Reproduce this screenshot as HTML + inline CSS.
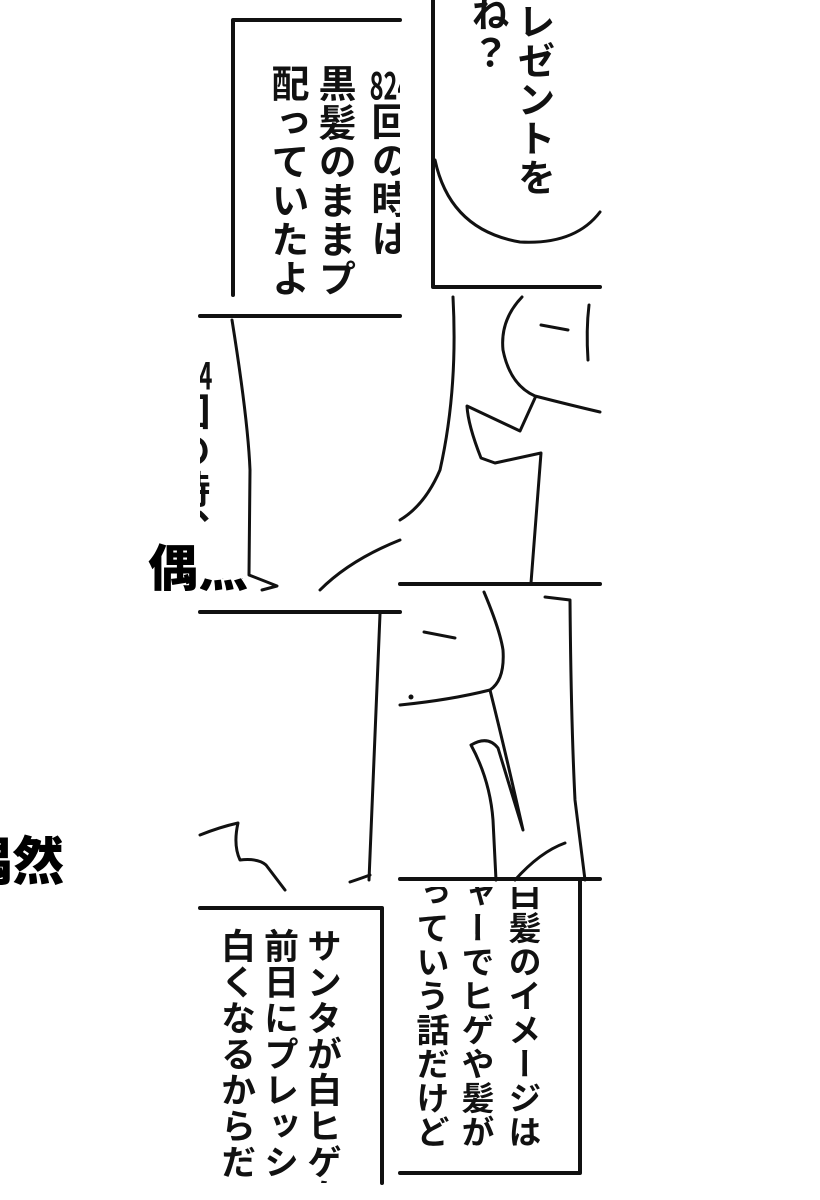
<!DOCTYPE html>
<html><head><meta charset="utf-8">
<style>
html,body{margin:0;padding:0;background:#fff;}
body{width:820px;height:1200px;position:relative;overflow:hidden;font-family:"Liberation Sans","Noto Sans CJK JP",sans-serif;}
.clip{position:absolute;overflow:hidden;}
.col{position:absolute;writing-mode:vertical-rl;font-size:38px;font-weight:700;line-height:40px;letter-spacing:1px;color:#111;white-space:nowrap;font-family:"Noto Sans CJK JP",sans-serif;}
.sm{font-size:33px;line-height:34px;letter-spacing:1px;}
.md{font-size:35px;line-height:36px;letter-spacing:1px;}
.tcy{text-combine-upright:all;}
svg{position:absolute;left:0;top:0;}
</style></head><body>
<svg width="820" height="1200" viewBox="0 0 820 1200" fill="none" stroke="#111" stroke-linecap="round" stroke-linejoin="round">
 <path d="M233 20 H400 M233 20 V295" stroke-width="4"/>
 <path d="M433 0 V287 H600" stroke-width="4"/>
 <path d="M435 160 Q450 230 520 242 Q575 245 600 212" stroke-width="3"/>
 <path d="M200 316 H400" stroke-width="4"/>
 <path d="M232 320 Q248 420 250 470 L249 575 Q262 580 277 586 L262 590" stroke-width="3"/>
 <path d="M320 590 Q350 560 400 540" stroke-width="3"/>
 <path d="M453 297 Q458 390 440 470 Q425 505 400 520" stroke-width="3"/>
 <path d="M522 297 Q500 320 503 350 Q510 385 535 396 Q570 405 600 412" stroke-width="3"/>
 <path d="M541 325 L568 330 M589 305 Q586 330 588 360" stroke-width="3"/>
 <path d="M535 398 L520 431 L467 406 Q468 425 481 458 L495 463 L541 453 L531 583" stroke-width="3"/>
 <path d="M400 584 H600" stroke-width="4"/>
 <path d="M200 612 H400" stroke-width="4"/>
 <path d="M380 614 L369 880" stroke-width="3"/>
 <path d="M200 835 Q220 827 238 823 Q233 845 240 860 Q258 858 266 865 L285 890" stroke-width="3"/>
 <path d="M350 882 Q362 878 370 875" stroke-width="3"/>
 <path d="M484 592 Q500 630 503 650 Q505 680 490 690 Q450 700 400 705" stroke-width="3"/>
 <path d="M424 632 L455 638" stroke-width="3"/>
 <circle cx="411" cy="697" r="2" fill="#111"/>
 <path d="M490 690 Q505 750 523 830 L498 748 Q488 735 471 745 Q490 780 493 820 L496 880" stroke-width="3"/>
 <path d="M545 597 L570 600 Q571 720 575 800 L585 880" stroke-width="3"/>
 <path d="M515 880 Q540 852 565 843" stroke-width="3"/>
 <path d="M400 879 H600" stroke-width="4"/>
 <path d="M200 908 H382 V1183" stroke-width="4"/>
 <path d="M580 881 V1173 H400" stroke-width="4"/>
</svg>

<div class="clip" style="left:200px;top:0;width:200px;height:296px;">
 <div class="col" style="left:170px;top:64px;"><span class="tcy">824</span>回の時は</div>
 <div class="col" style="left:117px;top:64px;">黒髪のままプ</div>
 <div class="col" style="left:70px;top:64px;">配っていたよ</div>
</div>
<div class="clip" style="left:400px;top:0;width:200px;height:290px;">
 <div class="col" style="left:116px;top:2px;">レゼントを</div>
 <div class="col" style="left:70px;top:-6px;">ね？</div>
</div>
<div class="clip" style="left:200px;top:318px;width:200px;height:272px;">
 <div class="col" style="left:-29px;top:36px;"><span class="tcy">824</span>回の時、</div>
</div>
<div class="clip" style="left:140px;top:535px;width:60px;height:56px;">
 <div style="position:absolute;left:8px;top:0;font-size:50px;font-weight:900;font-family:'Noto Sans CJK JP',sans-serif;line-height:60px;">偶然</div>
</div>
<div class="clip" style="left:200px;top:578px;width:70px;height:20px;">
 <div style="position:absolute;left:-52px;top:-43px;font-size:50px;font-weight:900;font-family:'Noto Sans CJK JP',sans-serif;line-height:60px;">偶然</div>
</div>
<div class="clip" style="left:0;top:825px;width:80px;height:62px;">
 <div style="position:absolute;left:-40px;top:2px;font-size:52px;font-weight:900;font-family:'Noto Sans CJK JP',sans-serif;line-height:62px;">偶然</div>
</div>
<div class="clip" style="left:200px;top:910px;width:180px;height:273px;">
 <div class="col md" style="left:106px;top:18px;">サンタが白ヒゲ白</div>
 <div class="col md" style="left:63px;top:18px;">前日にプレッシャ</div>
 <div class="col md" style="left:20px;top:18px;">白くなるからだっ</div>
</div>
<div class="clip" style="left:400px;top:887px;width:178px;height:284px;">
 <div class="col sm" style="left:108px;top:-10px;">白髪のイメージは</div>
 <div class="col sm" style="left:61px;top:-44px;">シャーでヒゲや髪が</div>
 <div class="col sm" style="left:16px;top:-44px;">だっていう話だけど</div>
</div>
</body></html>
